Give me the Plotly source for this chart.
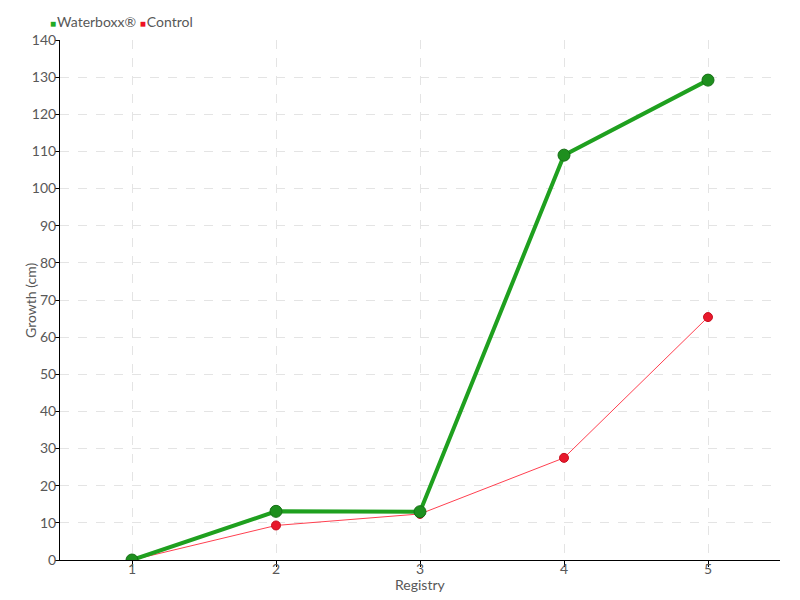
import plotly.graph_objects as go

registry = [1, 2, 3, 4, 5]
waterboxx = [0, 13.1, 13.0, 109.0, 129.2]
control = [0, 9.3, 12.4, 27.5, 65.4]

FONT = "Lato, sans-serif"
GREEN = "#1fa01f"
TXT = "#585858"

fig = go.Figure()
fig.add_trace(go.Scatter(
    x=registry, y=control, mode="lines+markers", name="Control", showlegend=False,
    line=dict(color="#ff4050", width=1),
    marker=dict(color="#e8192c", size=9, line=dict(color="#c81020", width=1)),
))
fig.add_trace(go.Scatter(
    x=registry, y=waterboxx, mode="lines+markers", name="Waterboxx®", showlegend=False,
    line=dict(color=GREEN, width=4),
    marker=dict(color="#1e8f1e", size=12, line=dict(color="#157015", width=1)),
))

# legend (drawn as text)
fig.add_annotation(
    xref="paper", yref="paper", x=-0.017, y=1.035, xanchor="left", yanchor="middle",
    showarrow=False, font=dict(size=14, color=TXT),
    text="<span style='color:#22aa22;font-size:10px'>■</span><span style='font-size:4px'> </span>Waterboxx® "
         "<span style='color:#ee1122;font-size:10px'>■</span><span style='font-size:4px'> </span>Control",
)
# axis titles
fig.add_annotation(
    xref="paper", yref="paper", x=0.5, y=-0.048, xanchor="center", yanchor="middle",
    showarrow=False, text="Registry", font=dict(size=14, color=TXT),
)
fig.add_annotation(
    xref="paper", yref="paper", x=-0.0417, y=0.5, xanchor="center", yanchor="middle",
    showarrow=False, text="Growth (cm)", textangle=-90, font=dict(size=14, color=TXT),
)

# page body has an 8px margin, so the figure is 8px smaller and margins shifted
fig.update_layout(
    width=792, height=592,
    paper_bgcolor="white", plot_bgcolor="white",
    margin=dict(l=52, r=20, t=32, b=40),
    font=dict(family=FONT, size=14, color=TXT),
    showlegend=False,
    xaxis=dict(
        range=[0.5, 5.5], tickvals=registry, ticktext=[str(v) for v in registry],
        showline=True, linecolor="black", linewidth=1, automargin=False,
        ticks="outside", ticklen=6, tickcolor="black", ticklabelstandoff=-10,
        showgrid=True, gridcolor="#e4e4e4", griddash="dash", zeroline=False,
    ),
    yaxis=dict(
        range=[0, 140], dtick=10, automargin=False,
        showline=True, linecolor="black", linewidth=1,
        ticks="outside", ticklen=4, tickcolor="black", ticklabelstandoff=-4,
        showgrid=True, gridcolor="#e4e4e4", griddash="dash", zeroline=False,
    ),
)

fig.write_html("out.html")
